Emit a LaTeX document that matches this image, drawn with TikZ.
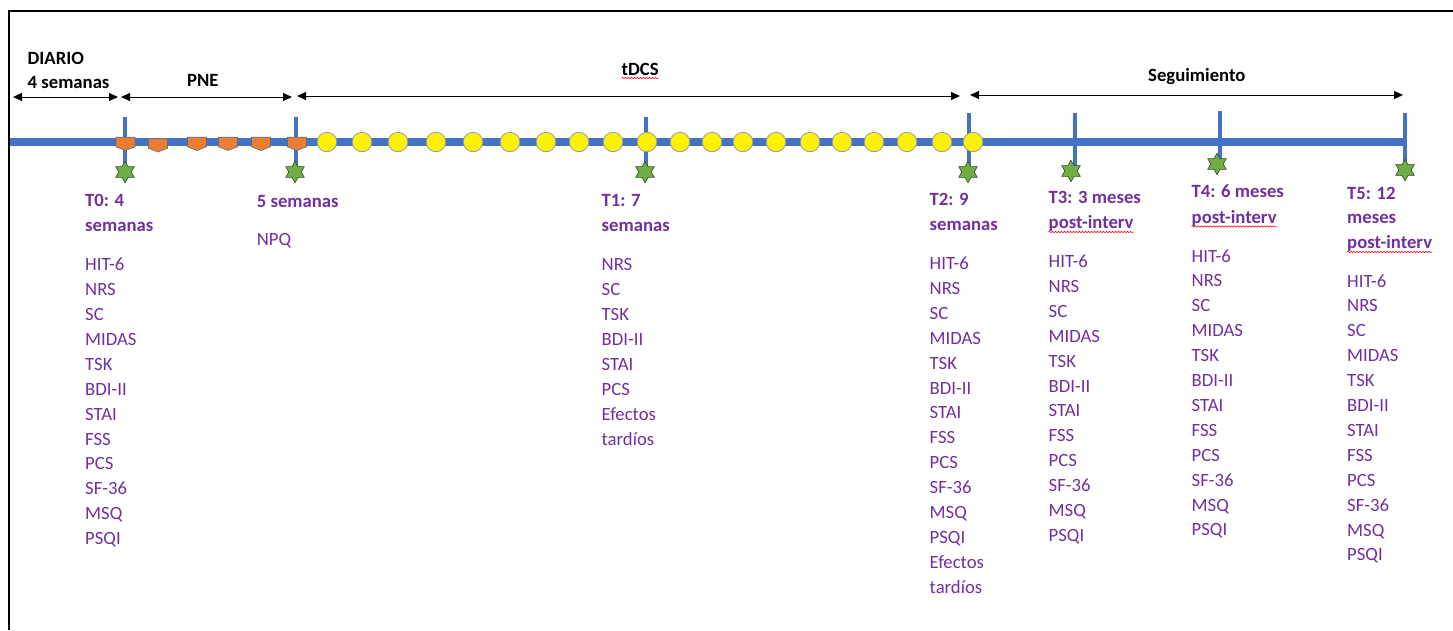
\documentclass[tikz,border=0pt]{standalone}
\usepackage{fontspec}
\setmainfont{Carlito}
\usetikzlibrary{arrows.meta,shapes.geometric,decorations.pathmorphing}
\definecolor{tlblue}{HTML}{4472C4}
\definecolor{purp}{HTML}{7030A0}
\definecolor{pneor}{HTML}{ED7D31}
\definecolor{pneedge}{HTML}{5A6F96}
\definecolor{starg}{HTML}{70AD47}
\definecolor{staredge}{HTML}{2E4A1E}
\definecolor{circedge}{HTML}{8E9AAE}
\tikzset{
  lbl/.style={anchor=base west, inner sep=0pt, font=\fontsize{18.7}{24.9}\selectfont},
  hd/.style={lbl, font=\fontsize{18.7}{24.9}\selectfont\bfseries, text=purp},
  itm/.style={lbl, text=purp},
  toplbl/.style={lbl, font=\fontsize{18.7}{24.9}\selectfont\bfseries, text=black},
  dbl/.style={{Triangle[length=9pt,width=8pt]}-{Triangle[length=9pt,width=8pt]}, line width=0.9pt},
  tlline/.style={tlblue, line width=8pt},
  tickline/.style={tlblue, line width=4.5pt},
  sess/.style={circle, fill=yellow, draw=circedge, line width=0.8pt, minimum size=19.5pt, inner sep=0pt},
  evalstar/.style={star, star points=6, star point ratio=1.75, fill=starg, draw=staredge, line width=0.6pt, minimum size=21.5pt, inner sep=0pt},
  squig/.style={red, line width=0.5pt, decorate, decoration={snake, amplitude=0.8pt, segment length=3pt}},
  pneshape/.pic={\path[fill=pneor, draw=pneedge, line width=0.6pt] (-9.5,-4.8) -- (9.5,-4.8) -- (9.5,4.8) -- (0,8.5) -- (-9.5,4.8) -- cycle;}
}
\begin{document}
\begin{tikzpicture}[x=1pt,y=-1pt]
\useasboundingbox (0,0) rectangle (1453,630);
% frame
\coordinate (fbl) at (9,630);
\coordinate (ftl) at (9,11);
\coordinate (ftr) at (1453,11);
\draw[line width=1.8pt] (fbl) -- (ftl) -- (ftr);

% top labels
\node[toplbl] (diario) at (27.5,64) {DIARIO};
\node[toplbl] (cuatro) at (27.5,88.5) {4 semanas};
\node[toplbl] (pne) at (187,86) {PNE};
\node[toplbl] (tdcs) at (621.5,75) {tDCS};
\node[toplbl] (seg) at (1148,81.5) {Seguimiento};
\draw[squig] ([yshift=-3pt]tdcs.base west) -- ([yshift=-3pt]tdcs.base east);

% phase arrows
\coordinate (a1l) at (13,97);   \coordinate (a1r) at (118,97);
\coordinate (a2l) at (121,97);  \coordinate (a2r) at (292,97);
\coordinate (a3l) at (297,96);  \coordinate (a3r) at (960,96);
\coordinate (a4l) at (970,95);  \coordinate (a4r) at (1403,95);
\draw[dbl] (a1l) -- (a1r);
\draw[dbl] (a2l) -- (a2r);
\draw[dbl] (a3l) -- (a3r);
\draw[dbl] (a4l) -- (a4r);

% main timeline
\coordinate (tlstart) at (10,142);
\coordinate (tlend) at (1405,142);
\draw[tlline] (tlstart) -- (tlend);

% ticks
\foreach \x/\a/\b [count=\i] in {125/117/166,296/117/166,646/117/166,969/113/166,1075/113/166,1220/111/160,1405/113/166}{
  \coordinate (tt\i) at (\x,\a);
  \coordinate (tb\i) at (\x,\b);
  \draw[tickline] (tt\i) -- (tb\i);
}

% PNE sessions
\foreach \x/\y in {125.5/142,158/143.5,197/142,228/142,261/142,297/142}{
  \pic at (\x,\y) {pneshape};
}

% tDCS sessions
\foreach \x [count=\i] in {327,362,398,436,473,510,546,579,613,647,680,712,743,776,810,842,874,907,942,973}{
  \node[sess] (s\i) at (\x,142) {};
}

% evaluation stars
\foreach \x/\y [count=\i] in {125/172,295/172,645/172,968/172,1071/171,1217/164,1405/170}{
  \node[evalstar] (st\i) at (\x,\y) {};
}

% T0
\node[hd] (h0a) at (85,206.5) {T0: 4};
\node[hd] (h0b) at (85,231.5) {semanas};
\foreach \t [count=\i from 0] in {HIT-6,NRS,SC,MIDAS,TSK,BDI-II,STAI,FSS,PCS,SF-36,MSQ,PSQI}{
  \node[itm] (c0-\i) at (85,{270.7+\i*24.9}) {\t};
}
% 5 semanas
\node[hd] (h5) at (256.7,207.3) {5 semanas};
\node[itm] (npq) at (256.7,245.5) {NPQ};
% T1
\node[hd] (h1a) at (601.5,206.7) {T1: 7};
\node[hd] (h1b) at (601.5,231.7) {semanas};
\foreach \t [count=\i from 0] in {NRS,SC,TSK,BDI-II,STAI,PCS,Efectos,tardíos}{
  \node[itm] (c1-\i) at (601.5,{270.7+\i*24.9}) {\t};
}
% T2
\node[hd] (h2a) at (929.5,205) {T2: 9};
\node[hd] (h2b) at (929.5,230) {semanas};
\foreach \t [count=\i from 0] in {HIT-6,NRS,SC,MIDAS,TSK,BDI-II,STAI,FSS,PCS,SF-36,MSQ,PSQI,Efectos,tardíos}{
  \node[itm] (c2-\i) at (929.5,{269.5+\i*24.9}) {\t};
}
% T3
\node[hd] (h3a) at (1048.5,203) {T3: 3 meses};
\node[hd] (h3b) at (1048.5,228.5) {post-interv};
\draw[squig] ([yshift=-3.5pt]h3b.base west) -- ([yshift=-3.5pt]h3b.base east);
\foreach \t [count=\i from 0] in {HIT-6,NRS,SC,MIDAS,TSK,BDI-II,STAI,FSS,PCS,SF-36,MSQ,PSQI}{
  \node[itm] (c3-\i) at (1048.5,{267.5+\i*24.9}) {\t};
}
% T4
\node[hd] (h4a) at (1191.5,197.5) {T4: 6 meses};
\node[hd] (h4b) at (1191.5,223) {post-interv};
\draw[squig] ([yshift=-3.5pt]h4b.base west) -- ([yshift=-3.5pt]h4b.base east);
\foreach \t [count=\i from 0] in {HIT-6,NRS,SC,MIDAS,TSK,BDI-II,STAI,FSS,PCS,SF-36,MSQ,PSQI}{
  \node[itm] (c4-\i) at (1191.5,{262+\i*24.9}) {\t};
}
% T5
\node[hd] (h5a) at (1347,199) {T5: 12};
\node[hd] (h5b) at (1347,223) {meses};
\node[hd] (h5c) at (1347,248.5) {post-interv};
\draw[squig] ([yshift=-3.5pt]h5c.base west) -- ([yshift=-3.5pt]h5c.base east);
\foreach \t [count=\i from 0] in {HIT-6,NRS,SC,MIDAS,TSK,BDI-II,STAI,FSS,PCS,SF-36,MSQ,PSQI}{
  \node[itm] (c5-\i) at (1347,{287+\i*24.9}) {\t};
}
\end{tikzpicture}
\end{document}
